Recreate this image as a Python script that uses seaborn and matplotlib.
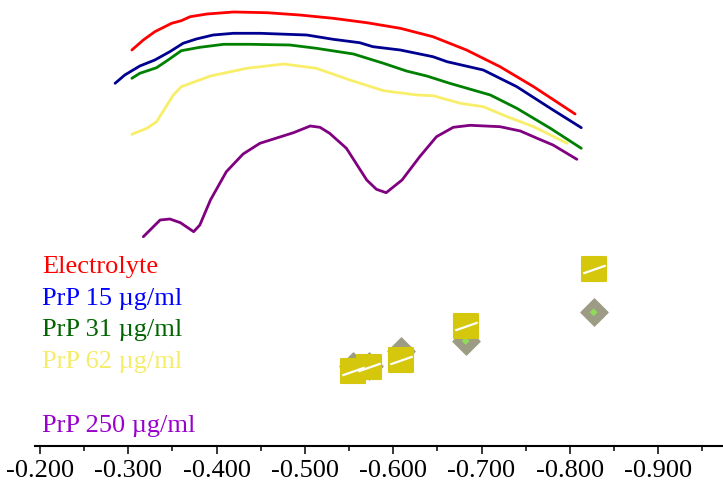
import matplotlib
matplotlib.use("Agg")
import matplotlib.pyplot as plt
from matplotlib.ticker import MultipleLocator, FuncFormatter
import seaborn as sns
import pandas as pd

# ---- data (potential in V, signal in arbitrary units) ----
electrolyte_x = [-0.304, -0.317, -0.330, -0.349, -0.360, -0.370, -0.389, -0.419, -0.457, -0.494,
                 -0.532, -0.570, -0.608, -0.645, -0.683, -0.721, -0.759, -0.806]
electrolyte_y = [396, 406, 414.3, 422.7, 425.3, 429.3, 432, 434, 433.3, 431,
                 427.7, 423.3, 417.7, 409.3, 396, 379.3, 359.3, 332]

prp15_x = [-0.285, -0.296, -0.313, -0.330, -0.347, -0.362, -0.377, -0.396, -0.419, -0.449, -0.502,
           -0.532, -0.562, -0.577, -0.608, -0.645, -0.661, -0.702, -0.740, -0.778, -0.813]
prp15_y = [362.7, 371, 380, 386, 394.3, 402.7, 407, 411, 412.7, 412.7, 411,
           406.7, 403.3, 399.3, 396, 389.3, 384.3, 376, 359.3, 337.7, 318.3]

prp31_x = [-0.304, -0.313, -0.332, -0.345, -0.360, -0.381, -0.408, -0.438, -0.483, -0.513,
           -0.555, -0.589, -0.615, -0.638, -0.664, -0.710, -0.740, -0.778, -0.813]
prp31_y = [367.7, 372.7, 378.3, 386, 395.3, 398.7, 401.7, 401.7, 401, 397.7,
           392, 382.7, 375, 370, 362.7, 351, 337.7, 317.7, 297.7]

prp62_x = [-0.304, -0.321, -0.332, -0.351, -0.360, -0.393, -0.434, -0.476, -0.513, -0.551,
           -0.589, -0.627, -0.645, -0.676, -0.702, -0.729, -0.759, -0.797]
prp62_y = [311.7, 317.7, 324.3, 351, 359.3, 370, 377.7, 382, 377.7, 366,
           355.3, 351, 350.3, 342.7, 339.3, 329.3, 319.3, 302.7]

prp250_x = [-0.317, -0.336, -0.347, -0.359, -0.374, -0.381, -0.393, -0.411, -0.430, -0.449,
            -0.487, -0.506, -0.517, -0.528, -0.547, -0.570, -0.581, -0.592, -0.610, -0.630,
            -0.649, -0.668, -0.687, -0.721, -0.744, -0.763, -0.781, -0.808]
prp250_y = [209.3, 226, 227, 223.3, 214.3, 221, 246, 274.3, 292, 302.7,
            313.3, 320, 318.7, 312.7, 297.7, 266, 256.7, 253.3, 266, 289.3,
            309.3, 318.7, 320.7, 319.3, 315, 307.7, 301, 286.7]

square_x = [-0.554, -0.573, -0.609, -0.682, -0.827]
square_y = [75.3, 78.7, 86, 120, 176.7]
diamond_x = [-0.554, -0.573, -0.609, -0.682, -0.827]
diamond_y = [80, 80, 95, 105, 133.7]

labels = ["Electrolyte", "PrP 15 \u00b5g/ml", "PrP 31 \u00b5g/ml", "PrP 62 \u00b5g/ml", "PrP 250 \u00b5g/ml"]
line_colors = ["#ff0000", "#000090", "#008000", "#f8ee6a", "#800080"]
text_colors = ["#ff0000", "#0000ff", "#006400", "#f5ec6a", "#9900cc"]

# ---- figure ----
sns.set_style("white")
plt.rcParams["font.family"] = ["Liberation Serif", "DejaVu Serif"]
plt.rcParams["axes.unicode_minus"] = False

W, H = 723, 484
fig = plt.figure(figsize=(W / 100, H / 100), dpi=100)
ax = fig.add_axes([35 / W, (H - 446) / H, (W - 35) / W, 446 / H])

series = [(electrolyte_x, electrolyte_y), (prp15_x, prp15_y), (prp31_x, prp31_y),
          (prp62_x, prp62_y), (prp250_x, prp250_y)]
for (xs, ys), c in zip(series, line_colors):
    df = pd.DataFrame({"E": xs, "I": ys})
    sns.lineplot(data=df, x="E", y="I", color=c, lw=2.0, ax=ax, sort=False, legend=False)

ddf = pd.DataFrame({"E": diamond_x, "I": diamond_y})
sdf = pd.DataFrame({"E": square_x, "I": square_y})
sns.scatterplot(data=ddf, x="E", y="I", marker="D", s=190, color="#9c9c84",
                edgecolor="#9c9c84", linewidth=1.0, ax=ax, legend=False, zorder=3)
sns.scatterplot(data=ddf, x="E", y="I", marker="D", s=16, color="#8fdc5a",
                edgecolor="none", ax=ax, legend=False, zorder=3.5)
sns.scatterplot(data=sdf, x="E", y="I", marker="s", s=280, color="#d4c70c",
                edgecolor="#d4c70c", linewidth=1.5, ax=ax, legend=False, zorder=4)
# white glare streaks on markers
sns.scatterplot(data=sdf, x="E", y="I", marker=[(-1, -0.35), (1, 0.35)], s=260,
                color="white", edgecolor="white", linewidth=1.6, ax=ax, legend=False, zorder=5)

ax.set_xlim(-0.1943, -0.9735)
ax.set_ylim(0, 446)
ax.set_xlabel("")
ax.set_ylabel("")
ax.set_yticks([])
for s in ["top", "right", "left"]:
    ax.spines[s].set_visible(False)
ax.spines["bottom"].set_linewidth(1.5)
ax.spines["bottom"].set_color("black")

ax.xaxis.set_major_locator(MultipleLocator(0.1))
ax.xaxis.set_minor_locator(MultipleLocator(0.05))
ax.xaxis.set_major_formatter(FuncFormatter(lambda v, p: f"{v:.3f}"))
ax.tick_params(axis="x", which="major", direction="out", length=5.5, width=1.1,
               color="black", labelcolor="black", pad=4.5, labelsize=19, bottom=True)
ax.tick_params(axis="x", which="minor", direction="out", length=3.5, width=1.1,
               color="black", bottom=True)

baselines = [272.7, 304.5, 336.3, 368.0, 432.0]
for lab, col, b in zip(labels, text_colors, baselines):
    fig.text(42 / W, 1 - b / H, lab, color=col, fontsize=19, ha="left", va="baseline")

fig.savefig("out.png", dpi=100)
